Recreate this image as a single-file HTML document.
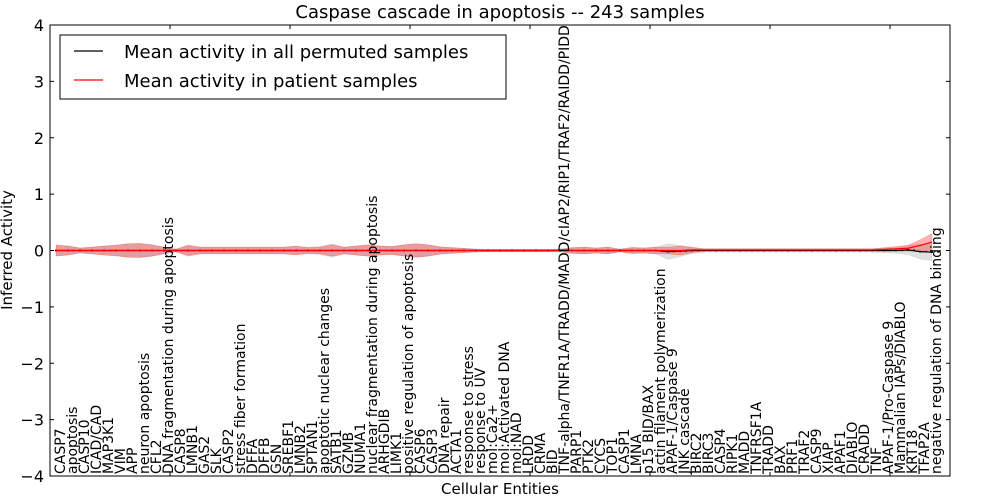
<!DOCTYPE html>
<html><head><meta charset="utf-8">
<style>
body{margin:0;background:#fff;}
svg{display:block;font-family:"DejaVu Sans","Liberation Sans",sans-serif;}
</style></head>
<body>
<svg id="chart" width="1000" height="500" viewBox="0 0 1000 500" xmlns="http://www.w3.org/2000/svg">
<rect width="1000" height="500" fill="#fff"/>
<text x="500" y="18" text-anchor="middle" font-size="18">Caspase cascade in apoptosis -- 243 samples</text>
<g id="bands"></g>
<g id="lines"></g>
<rect x="50" y="25" width="900" height="451" fill="none" stroke="#000" stroke-width="1"/>
<g id="yaxis"></g>
<g id="xaxis"></g>
<text transform="translate(12,250) rotate(-90)" text-anchor="middle" font-size="15">Inferred Activity</text>
<text x="500" y="494" text-anchor="middle" font-size="15">Cellular Entities</text>
<g>
<rect x="60" y="35" width="446" height="64" fill="#fff" stroke="#000" stroke-width="1"/>
<line x1="74" y1="51" x2="103" y2="51" stroke="#000" stroke-width="1.2"/>
<text x="124" y="58" font-size="18">Mean activity in all permuted samples</text>
<line x1="74" y1="80" x2="103" y2="80" stroke="#f00" stroke-width="1.2"/>
<text x="124" y="87" font-size="18">Mean activity in patient samples</text>
</g>
</svg>
<script>
const categories = ["CASP7","apoptosis","CASP10","ICAD/CAD","MAP3K1","VIM","APP","neuron apoptosis","CFL2","DNA fragmentation during apoptosis","CASP8","LMNB1","GAS2","SLK","CASP2","stress fiber formation","DFFA","DFFB","GSN","SREBF1","LMNB2","SPTAN1","apoptotic nuclear changes","SATB1","GZMB","NUMA1","nuclear fragmentation during apoptosis","ARHGDIB","LIMK1","positive regulation of apoptosis","CASP6","CASP3","DNA repair","ACTA1","response to stress","response to UV","mol:Ca2+","mol:Activated DNA","mol:NAD","LRDD","CRMA","BID","TNF-alpha/TNFR1A/TRADD/MADD/cIAP2/RIP1/TRAF2/RAIDD/PIDD","PARP1","PTK2","CYCS","TOP1","CASP1","LMNA","p15 BID/BAX","actin filament polymerization","APAF-1/Caspase 9","JNK cascade","BIRC2","BIRC3","CASP4","RIPK1","MADD","TNFRSF1A","TRADD","BAX","PRF1","TRAF2","CASP9","XIAP","APAF1","DIABLO","CRADD","TNF","APAF-1/Pro-Caspase 9","Mammalian IAPs/DIABLO","KRT18","TFAP2A","negative regulation of DNA binding"];
const patientMean = [0,0,0,0,0,0,0,0,0,0, 0,0,0,0,0,0,0,0,0,0, 0,0,0,0,0,0,0,0,0,0, 0,0,0,0,0,0,0,0,0,0, 0,0,0,0,0,0,0,0,0,0, 0,0,0,0.01,0.01,0.01,0.01,0.01,0.01,0.01, 0.01,0.01,0.01,0.01,0.01,0.01,0.01,0.01,0.01,0.02, 0.03,0.04,0.09,0.15];
const permutedMean = [0,0,0,0,0,0,0,0,0,0, 0,0,0,0,0,0,0,0,0,0, 0,0,0,0,0,0,0,0,0,0, 0,0,0,0,0,0,0,0,0,0, 0,0,0,0,0,0,0,0,0,0, 0,-0.02,-0.01,0,0,0,0,0,0,0, 0,0,0,0,0,0,0,0,0,0, 0,0.01,-0.02,-0.03];
const patientSpread = [0.1,0.08,0.04,0.06,0.08,0.09,0.12,0.12,0.1,0.06, 0.02,0.1,0.06,0.06,0.06,0.06,0.06,0.06,0.06,0.06, 0.08,0.05,0.06,0.1,0.06,0.08,0.1,0.08,0.07,0.1, 0.12,0.1,0.06,0.05,0.04,0.02,0.02,0.02,0.02,0.02, 0.02,0.02,0.02,0.05,0.06,0.04,0.06,0.02,0.05,0.04, 0.06,0.06,0.08,0.05,0.02,0.02,0.02,0.02,0.02,0.02, 0.02,0.02,0.02,0.02,0.02,0.02,0.02,0.02,0.02,0.03, 0.04,0.05,0.1,0.15];
const permutedSpread = [0.09,0.08,0.05,0.06,0.08,0.1,0.12,0.13,0.1,0.06, 0.03,0.08,0.06,0.06,0.06,0.06,0.06,0.06,0.06,0.06, 0.07,0.06,0.07,0.12,0.06,0.08,0.1,0.08,0.07,0.1, 0.12,0.1,0.07,0.05,0.04,0.03,0.02,0.02,0.02,0.02, 0.02,0.02,0.03,0.05,0.06,0.05,0.06,0.03,0.06,0.05, 0.06,0.14,0.1,0.05,0.03,0.03,0.03,0.03,0.03,0.03, 0.03,0.03,0.03,0.03,0.03,0.03,0.03,0.03,0.03,0.04, 0.05,0.08,0.13,0.15];
const yTicks = [-4,-3,-2,-1,0,1,2,3,4];

const NS="http://www.w3.org/2000/svg";
const X0=50,X1=950,Y0=476,Y1=25,NX=75;
function xs(i){return X0+(i+0.5)*(X1-X0)/NX;}
function ys(v){return Y0-(v+4)*(Y0-Y1)/8;}
function mk(tag,attrs,parent){const e=document.createElementNS(NS,tag);for(const k in attrs)e.setAttribute(k,attrs[k]);parent.appendChild(e);return e;}

const bands=document.getElementById('bands');
function band(mean,spread,color,op,name){
  let up=[],dn=[];
  mean.forEach((m,i)=>{up.push(xs(i)+','+ys(m+spread[i]));dn.unshift(xs(i)+','+ys(m-spread[i]));});
  const p=mk('polygon',{points:up.concat(dn).join(' '),fill:color,'fill-opacity':op,stroke:color,'stroke-opacity':op,'stroke-width':0.5},bands);
  
  
}
band(permutedMean,permutedSpread,'#999',0.3,'permuted-band');
band(patientMean,patientSpread,'#f00',0.3,'patient-band');

const lines=document.getElementById('lines');
function line(mean,color,name){
  const p=mk('polyline',{points:mean.map((m,i)=>xs(i)+','+ys(m)).join(' '),fill:'none',stroke:color,'stroke-width':1.2},lines);
  
  
}
line(permutedMean,'#000','permuted-mean-line');
permutedMean.forEach((m,i)=>{
  const c=mk('circle',{cx:xs(i),cy:ys(m),r:1,fill:'#000'},lines);
  
  
  const c2=mk('circle',{cx:xs(i)+6,cy:ys(m),r:0.8,fill:'#000'},lines);
  
  
});
line(patientMean,'#f00','patient-mean-line');

const ya=document.getElementById('yaxis');
yTicks.forEach(v=>{
  const y=ys(v);
  mk('line',{x1:X0,y1:y,x2:X0+4,y2:y,stroke:'#000'},ya);
  mk('line',{x1:X1-4,y1:y,x2:X1,y2:y,stroke:'#000'},ya);
  const t=mk('text',{x:X0-6,y:y+6,'text-anchor':'end','font-size':16},ya);
  t.textContent=(v<0?'\u2212'+(-v):String(v));
  
  
});
const xa=document.getElementById('xaxis');
for(let k=10;k<NX;k+=10){
  const x=X0+k*(X1-X0)/NX;
  mk('line',{x1:x,y1:Y1,x2:x,y2:Y1+4,stroke:'#000'},xa);
  mk('line',{x1:x,y1:Y0,x2:x,y2:Y0-4,stroke:'#000'},xa);
}
categories.forEach((c,i)=>{
  const x=xs(i)+9;
  const t=mk('text',{transform:'translate('+x+','+(Y0-2)+') rotate(-90)','font-size':14},xa);
  t.textContent=c;
  
  
});
</script>
</body></html>
